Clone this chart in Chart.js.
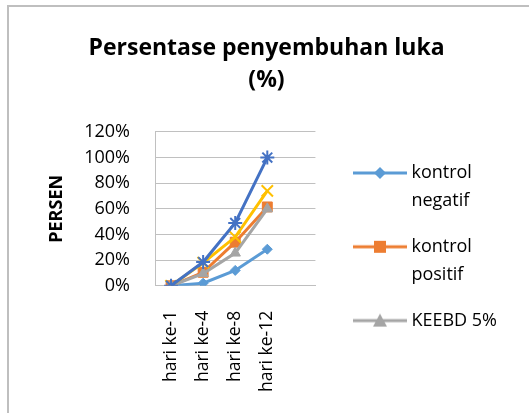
<!DOCTYPE html>
<html>
<head>
<meta charset="utf-8">
<script src="https://cdn.jsdelivr.net/npm/chart.js@4.4.1/dist/chart.umd.min.js"></script>
<style>
  html, body { margin: 0; padding: 0; background: #fff; overflow: hidden; }
  #frame { position: absolute; left: 7px; top: 5px; width: 600px; height: 500px; border: 2px solid #bfbfbf; }
  #wrap { position: absolute; left: 0; top: 0; width: 529px; height: 413px; }
</style>
</head>
<body>
<div id="frame"></div>
<div id="wrap"><canvas id="woundChart"></canvas></div>
<script>
// values (percent)
const days = ['hari ke-1', 'hari ke-4', 'hari ke-8', 'hari ke-12', ''];
const kontrolNegatif = [0, 2, 12, 28.5, null];
const kontrolPositif = [0, 10.5, 34, 61.5, null];
const keebd5 = [0, 9.5, 25.5, 60, null];
const keebd10 = [0, 18, 38, 74, null];
const keebd15 = [0, 18.5, 49, 100, null];
const yTicks = [0, 20, 40, 60, 80, 100, 120];
const legendText = [['kontrol', 'negatif'], ['kontrol', 'positif'], ['KEEBD 5%']];

const FONT = 'Open Sans';

// line + marker icon for the legend (left part left transparent as spacing)
function legendIcon(color, shape) {
  const c = document.createElement('canvas');
  c.width = 78;
  c.height = 16;
  const ctx = c.getContext('2d');
  ctx.strokeStyle = color;
  ctx.fillStyle = color;
  ctx.lineWidth = 3;
  ctx.beginPath();
  ctx.moveTo(24, 8);
  ctx.lineTo(78, 8);
  ctx.stroke();
  const cx = 51;
  ctx.beginPath();
  if (shape === 'rectRot') {
    ctx.moveTo(cx, 2); ctx.lineTo(cx + 6, 8); ctx.lineTo(cx, 14); ctx.lineTo(cx - 6, 8);
  } else if (shape === 'rect') {
    ctx.rect(cx - 6, 2, 12, 12);
  } else {
    ctx.moveTo(cx, 1); ctx.lineTo(cx + 7, 14); ctx.lineTo(cx - 7, 14);
  }
  ctx.closePath();
  ctx.fill();
  return c;
}

function series(label, data, color, shape, radius, order) {
  return {
    label,
    data,
    borderColor: color,
    backgroundColor: color,
    pointBackgroundColor: color,
    pointBorderColor: color,
    pointStyle: shape,
    pointRadius: radius,
    pointBorderWidth: shape === 'crossRot' || shape === 'star' ? 2 : 1,
    borderWidth: 3,
    tension: 0,
    fill: false,
    order, // later series drawn on top, same as excel
  };
}

const datasets = [
  series('kontrol negatif', kontrolNegatif, '#5B9BD5', 'rectRot', 5, 4),
  series('kontrol positif', kontrolPositif, '#ED7D31', 'rect', 7, 3),
  series('KEEBD 5%', keebd5, '#A5A5A5', 'triangle', 6, 2),
  series('KEEBD 10%', keebd10, '#FFC000', 'crossRot', 8, 1),
  series('KEEBD 15%', keebd15, '#4472C4', 'star', 7, 0),
];

const icons = [
  legendIcon('#5B9BD5', 'rectRot'),
  legendIcon('#ED7D31', 'rect'),
  legendIcon('#A5A5A5', 'triangle'),
];

const chart = new Chart('woundChart', {
  type: 'line',
  data: { labels: days, datasets },
  options: {
    responsive: true,
    maintainAspectRatio: false,
    animation: false,
    layout: { padding: { left: 26, right: 22, top: 32, bottom: 4 } },
    plugins: {
      tooltip: { enabled: false },
      title: {
        display: true,
        text: ['Persentase penyembuhan luka', '(%)'],
        color: '#000',
        font: { family: FONT, size: 23, weight: 'bold', lineHeight: 1.39 },
        padding: { top: 0, bottom: 36 },
      },
      legend: {
        position: 'right',
        align: 'start',
        maxWidth: 219,
        // empty title only used to push the items down
        title: { display: true, text: ' ', font: { size: 8, lineHeight: 1.25 }, padding: { top: 104, bottom: 0 } },
        labels: {
          usePointStyle: true,
          pointStyleWidth: 69,
          boxHeight: 16,
          color: '#000',
          padding: 18,
          font: { family: FONT, size: 18, lineHeight: 1.55 },
          generateLabels: () => icons.map((icon, i) => ({
            text: legendText[i],
            pointStyle: icon,
            datasetIndex: i,
            fillStyle: datasets[i].borderColor,
            strokeStyle: datasets[i].borderColor,
            lineWidth: 0,
            hidden: false,
            fontColor: '#000',
          })),
        },
      },
    },
    scales: {
      x: {
        offset: true,
        grid: { display: false },
        border: { display: true, color: '#bfbfbf', width: 1 },
        ticks: {
          color: '#000',
          minRotation: 90,
          maxRotation: 90,
          autoSkip: false,
          padding: 17,
          font: { family: FONT, size: 17.5 },
        },
      },
      y: {
        min: 0,
        max: 120,
        afterBuildTicks: scale => {
          scale.ticks = yTicks.map(v => ({ value: v }));
        },
        afterFit: scale => {
          scale.width = 129;
        },
        grid: { color: '#c0c0c0', drawTicks: false },
        border: { display: true, color: '#c0c0c0', width: 1 },
        ticks: {
          color: '#000',
          padding: 25,
          font: { family: FONT, size: 18 },
          callback: v => v + '%',
        },
        title: {
          display: true,
          text: 'PERSEN',
          color: '#000',
          font: { family: FONT, size: 18, weight: 'bold' },
          padding: { top: 20, bottom: 8 },
        },
      },
    },
  },
});
</script>
</body>
</html>
